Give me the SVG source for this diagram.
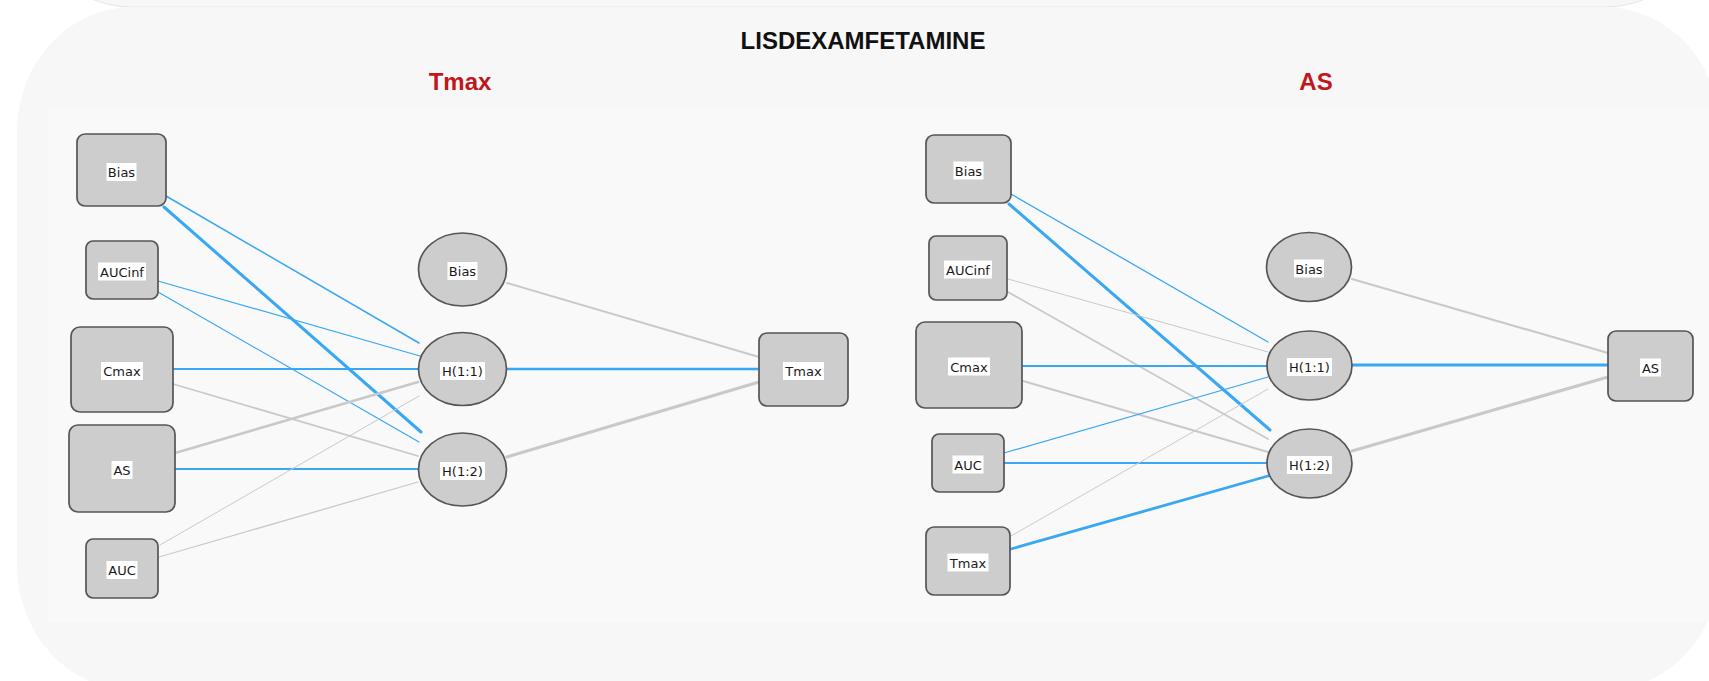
<svg xmlns="http://www.w3.org/2000/svg" width="1709" height="681" viewBox="0 0 1709 681">
  <style>
    .card { fill: #f7f7f7; }
    .cardEdge { fill: #f7f7f7; stroke: #e6e6e6; stroke-width: 1; }
    .panel { fill: #f9f9f9; }
    .shape { fill: #cdcdcd; stroke: #555555; stroke-width: 1.7; }
    .lbl { fill: #ffffff; }
    .t { font-family: "DejaVu Sans", Verdana, sans-serif; font-size: 13px; fill: #1a1a1a; text-anchor: middle; }
    .title { font-family: "Liberation Sans", Arial, sans-serif; font-weight: bold; font-size: 24px; text-anchor: middle; fill: #111111; }
    .sub { font-family: "Liberation Sans", Arial, sans-serif; font-weight: bold; font-size: 24px; text-anchor: middle; fill: #c0171c; }
    .pos { stroke: #38a7f4; fill: none; stroke-linecap: round; }
    .neg { stroke: #c9c9c9; fill: none; stroke-linecap: round; }
  </style>

  <!-- page background and cards -->
  <rect x="0" y="0" width="1709" height="681" fill="#ffffff"/>
  <rect class="cardEdge" x="17" y="-400" width="1703" height="407" rx="115" ry="125"/>
  <rect class="card" x="17" y="7" width="1703" height="683" rx="115" ry="125"/>
  <rect class="panel" x="48" y="108" width="829" height="514"/>
  <rect class="panel" x="877" y="108" width="843" height="514"/>

  <!-- headings -->
  <text class="title" x="863" y="49">LISDEXAMFETAMINE</text>
  <text class="sub" x="460" y="90">Tmax</text>
  <text class="sub" x="1316" y="90">AS</text>

  <!-- connectors -->
  <g id="connectors">
    <!-- left network: inputs to hidden layer -->
    <line class="pos" x1="166" y1="196" x2="419" y2="343" stroke-width="1.5"/>
    <line class="pos" x1="164" y1="207" x2="421" y2="432" stroke-width="3"/>
    <line class="pos" x1="158" y1="281" x2="420" y2="356" stroke-width="1.2"/>
    <line class="pos" x1="158" y1="292" x2="419" y2="442" stroke-width="1.2"/>
    <line class="pos" x1="173" y1="369" x2="418" y2="369" stroke-width="2.2"/>
    <line class="neg" x1="173" y1="384" x2="418" y2="456" stroke-width="1.8"/>
    <line class="neg" x1="175" y1="453" x2="418" y2="382" stroke-width="2.6"/>
    <line class="pos" x1="175" y1="469" x2="418" y2="469" stroke-width="2.2"/>
    <line class="neg" x1="160" y1="545" x2="419" y2="396" stroke-width="1" stroke="#d6d6d6"/>
    <line class="neg" x1="159" y1="557" x2="418" y2="482" stroke-width="1.3"/>
    <!-- left network: hidden layer to output -->
    <line class="neg" x1="507" y1="283" x2="759" y2="357" stroke-width="2"/>
    <line class="pos" x1="507" y1="369" x2="759" y2="369" stroke-width="2.6"/>
    <line class="neg" x1="507" y1="457" x2="759" y2="382" stroke-width="3.2"/>

    <!-- right network: inputs to hidden layer -->
    <line class="pos" x1="1011" y1="194" x2="1268" y2="342" stroke-width="1.3"/>
    <line class="pos" x1="1009" y1="204" x2="1270" y2="430" stroke-width="3"/>
    <line class="neg" x1="1008" y1="279" x2="1268" y2="352" stroke-width="1" stroke="#d2d2d2"/>
    <line class="neg" x1="1008" y1="292" x2="1268" y2="439" stroke-width="1.8"/>
    <line class="pos" x1="1022" y1="366" x2="1267" y2="366" stroke-width="2.2"/>
    <line class="neg" x1="1023" y1="381" x2="1268" y2="452" stroke-width="2"/>
    <line class="pos" x1="1004" y1="453" x2="1268" y2="377" stroke-width="1.2"/>
    <line class="pos" x1="1004" y1="463" x2="1267" y2="463" stroke-width="2.2"/>
    <line class="neg" x1="1011" y1="536" x2="1268" y2="389" stroke-width="1" stroke="#d2d2d2"/>
    <line class="pos" x1="1011" y1="549" x2="1268" y2="476" stroke-width="2.8"/>
    <!-- right network: hidden layer to output -->
    <line class="neg" x1="1352" y1="279" x2="1608" y2="353" stroke-width="2.2"/>
    <line class="pos" x1="1352" y1="365" x2="1608" y2="365" stroke-width="3"/>
    <line class="neg" x1="1352" y1="451" x2="1608" y2="377" stroke-width="3.2"/>
  </g>

  <!-- left network nodes -->
  <g id="tmax-in-bias">
    <rect class="shape" x="77" y="134" width="89" height="72" rx="8"/>
    <rect class="lbl" x="106.5" y="163" width="30" height="18"/>
    <text class="t" x="121.5" y="176.5">Bias</text>
  </g>
  <g id="tmax-in-aucinf">
    <rect class="shape" x="86" y="241" width="72" height="58" rx="7"/>
    <rect class="lbl" x="98" y="262.5" width="48" height="18"/>
    <text class="t" x="122" y="276.5">AUCinf</text>
  </g>
  <g id="tmax-in-cmax">
    <rect class="shape" x="71" y="327" width="102" height="85" rx="9"/>
    <rect class="lbl" x="101" y="362" width="42" height="18"/>
    <text class="t" x="122" y="376">Cmax</text>
  </g>
  <g id="tmax-in-as">
    <rect class="shape" x="69" y="425" width="106" height="87" rx="9"/>
    <rect class="lbl" x="111.5" y="461" width="21" height="18"/>
    <text class="t" x="122" y="475">AS</text>
  </g>
  <g id="tmax-in-auc">
    <rect class="shape" x="86" y="539" width="72" height="59" rx="7"/>
    <rect class="lbl" x="106.5" y="561" width="31" height="18"/>
    <text class="t" x="122" y="575">AUC</text>
  </g>
  <g id="tmax-hid-bias">
    <ellipse class="shape" cx="462.5" cy="269.5" rx="44" ry="36.5"/>
    <rect class="lbl" x="447.5" y="262" width="30" height="18"/>
    <text class="t" x="462.5" y="276">Bias</text>
  </g>
  <g id="tmax-hid-h11">
    <ellipse class="shape" cx="462.5" cy="369" rx="44" ry="36.5"/>
    <rect class="lbl" x="440" y="362" width="45" height="18"/>
    <text class="t" x="462.5" y="376">H(1:1)</text>
  </g>
  <g id="tmax-hid-h12">
    <ellipse class="shape" cx="462.5" cy="469.5" rx="44" ry="36.5"/>
    <rect class="lbl" x="440" y="462" width="45" height="18"/>
    <text class="t" x="462.5" y="476">H(1:2)</text>
  </g>
  <g id="tmax-out">
    <rect class="shape" x="759" y="333" width="89" height="73" rx="8"/>
    <rect class="lbl" x="783" y="362" width="41" height="18"/>
    <text class="t" x="803.5" y="376">Tmax</text>
  </g>

  <!-- right network nodes -->
  <g id="as-in-bias">
    <rect class="shape" x="926" y="135" width="85" height="68" rx="8"/>
    <rect class="lbl" x="953.5" y="161.5" width="30" height="18"/>
    <text class="t" x="968.5" y="175.5">Bias</text>
  </g>
  <g id="as-in-aucinf">
    <rect class="shape" x="929" y="236" width="78" height="64" rx="7"/>
    <rect class="lbl" x="944" y="260.5" width="48" height="18"/>
    <text class="t" x="968" y="274.5">AUCinf</text>
  </g>
  <g id="as-in-cmax">
    <rect class="shape" x="916" y="322" width="106" height="86" rx="9"/>
    <rect class="lbl" x="948" y="357.5" width="42" height="18"/>
    <text class="t" x="969" y="371.5">Cmax</text>
  </g>
  <g id="as-in-auc">
    <rect class="shape" x="932" y="434" width="72" height="58" rx="7"/>
    <rect class="lbl" x="952.5" y="455.5" width="31" height="18"/>
    <text class="t" x="968" y="469.5">AUC</text>
  </g>
  <g id="as-in-tmax">
    <rect class="shape" x="926" y="527" width="84" height="68" rx="8"/>
    <rect class="lbl" x="947.5" y="553.5" width="41" height="18"/>
    <text class="t" x="968" y="567.5">Tmax</text>
  </g>
  <g id="as-hid-bias">
    <ellipse class="shape" cx="1309" cy="267" rx="42.5" ry="34.5"/>
    <rect class="lbl" x="1294" y="259.5" width="30" height="18"/>
    <text class="t" x="1309" y="273.5">Bias</text>
  </g>
  <g id="as-hid-h11">
    <ellipse class="shape" cx="1309.5" cy="365.5" rx="42.5" ry="34.5"/>
    <rect class="lbl" x="1287" y="358" width="45" height="18"/>
    <text class="t" x="1309.5" y="372">H(1:1)</text>
  </g>
  <g id="as-hid-h12">
    <ellipse class="shape" cx="1309.5" cy="463.5" rx="42.5" ry="34.5"/>
    <rect class="lbl" x="1287" y="456" width="45" height="18"/>
    <text class="t" x="1309.5" y="470">H(1:2)</text>
  </g>
  <g id="as-out">
    <rect class="shape" x="1608" y="331" width="85" height="70" rx="8"/>
    <rect class="lbl" x="1640" y="358.5" width="21" height="18"/>
    <text class="t" x="1650.5" y="372.5">AS</text>
  </g>
</svg>
